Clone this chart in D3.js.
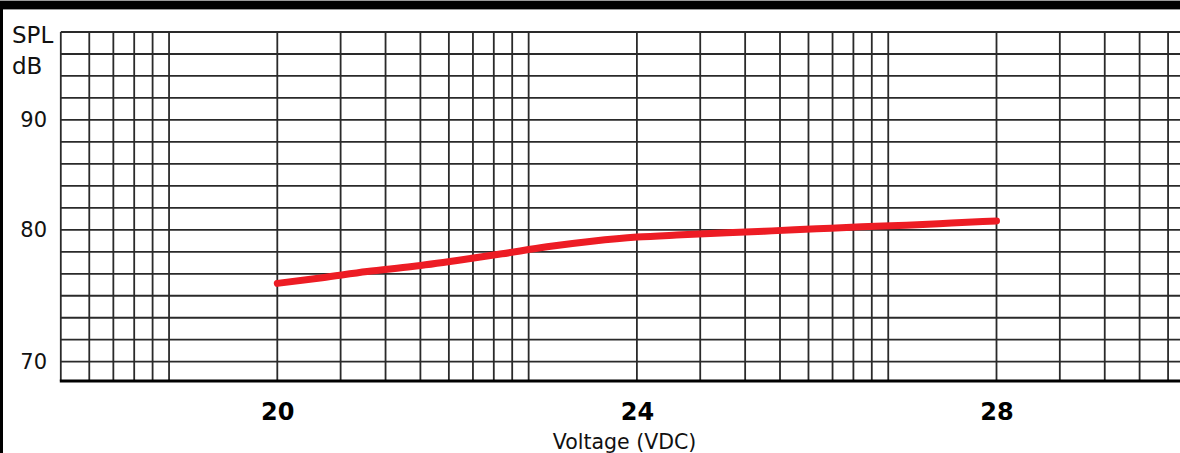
<!DOCTYPE html>
<html>
<head>
<meta charset="utf-8">
<script src="https://cdn.jsdelivr.net/npm/d3@7"></script>
<style>
  html, body { margin: 0; padding: 0; background: #fff; }
  svg { display: block; }
</style>
</head>
<body>
<script>
// data
var voltage = [20, 20.5, 21, 21.5, 22, 22.5, 23, 23.5, 24, 24.5, 25, 25.5, 26, 26.5, 27, 27.5, 28];
var spl = [75.94, 76.37, 76.84, 77.22, 77.68, 78.18, 78.71, 79.13, 79.45, 79.62, 79.77, 79.92, 80.09, 80.27, 80.42, 80.61, 80.81];

var xTicks = [20, 24, 28];
var yTicks = [70, 80, 90];

// graph paper pattern: each labelled step (4 V) is one log decade
var paperDecades = [-1, 0, 1, 2];
var paperSteps = [1, 1.5, 2, 2.5, 3, 3.5, 4, 4.5, 5];
var paperRows = d3.range(0, 16);

var W = 1180, H = 453;

var svg = d3.select("body")
	.append("svg")
	.attr("width", W)
	.attr("height", H);

// scales
var x = d3.scaleLinear().domain([20, 28]).range([277.3, 996.5]);
var rowY = d3.scaleLinear().domain([0, 15]).range([32, 361.7]);
// the printed labels do not sit evenly on the paper, so polylinear
var y = d3.scaleLinear().domain([70, 80, 90]).range([rowY(15), rowY(9), rowY(4)]);

var paperX = function(k, m){
	return x(20 + 4 * (k + Math.log10(m)));
};

var left = paperX(-1, 2.5);
var bottom = 381;

// outer frame (top band and left edge)
svg.append("rect").attr("x", 0).attr("y", 0).attr("width", W).attr("height", 10).attr("fill", "#9a9a9a");
svg.append("rect").attr("x", 0).attr("y", 1).attr("width", W).attr("height", 8).attr("fill", "#000");
svg.append("rect").attr("x", 0).attr("y", 9).attr("width", 3).attr("height", H - 9).attr("fill", "#000");

var grid = svg.append("g").attr("class", "paper");

// horizontal rulings
grid.selectAll("line.row")
	.data(paperRows)
	.enter()
	.append("line")
	.attr("class", "row")
	.attr("x1", left)
	.attr("x2", W)
	.attr("y1", function(d){ return rowY(d); })
	.attr("y2", function(d){ return rowY(d); })
	.attr("stroke", "#2a2a2a")
	.attr("stroke-width", 1.8);

// vertical rulings
var cols = [];
paperDecades.forEach(function(k){
	paperSteps.forEach(function(m){
		var px = paperX(k, m);
		if(px >= left - 0.5 && px <= W) cols.push(px);
	});
});

grid.selectAll("line.col")
	.data(cols)
	.enter()
	.append("line")
	.attr("class", "col")
	.attr("x1", function(d){ return d; })
	.attr("x2", function(d){ return d; })
	.attr("y1", rowY(0))
	.attr("y2", bottom)
	.attr("stroke", "#2a2a2a")
	.attr("stroke-width", 1.8);

// bottom border
grid.append("line")
	.attr("x1", left - 1)
	.attr("x2", W)
	.attr("y1", bottom)
	.attr("y2", bottom)
	.attr("stroke", "#000")
	.attr("stroke-width", 3);

// y axis labels
var yAxis = svg.append("g")
	.attr("transform", "translate(47,0)")
	.call(d3.axisLeft(y).tickValues(yTicks).tickSize(0).tickPadding(0));
yAxis.select(".domain").remove();
yAxis.selectAll("text")
	.attr("font-family", "DejaVu Sans, sans-serif")
	.attr("font-size", 21)
	.attr("fill", "#111");

svg.append("text")
	.attr("x", 12)
	.attr("y", 43)
	.attr("font-family", "DejaVu Sans, sans-serif")
	.attr("font-size", 23)
	.attr("fill", "#111")
	.text("SPL");

svg.append("text")
	.attr("x", 12)
	.attr("y", 74)
	.attr("font-family", "DejaVu Sans, sans-serif")
	.attr("font-size", 23)
	.attr("fill", "#111")
	.text("dB");

// x axis labels
var xAxis = svg.append("g")
	.attr("transform", "translate(0," + bottom + ")")
	.call(d3.axisBottom(x).tickValues(xTicks).tickSize(0).tickPadding(22));
xAxis.select(".domain").remove();
xAxis.selectAll("text")
	.attr("font-family", "DejaVu Sans, sans-serif")
	.attr("font-weight", "bold")
	.attr("font-size", 24)
	.attr("fill", "#000");

svg.append("text")
	.attr("x", 624.5)
	.attr("y", 449)
	.attr("text-anchor", "middle")
	.attr("font-family", "DejaVu Sans, sans-serif")
	.attr("font-size", 20.5)
	.attr("fill", "#111")
	.text("Voltage (VDC)");

// the curve
var line = d3.line()
	.x(function(d, i){ return x(voltage[i]); })
	.y(function(d){ return y(d); })
	.curve(d3.curveMonotoneX);

svg.append("path")
	.datum(spl)
	.attr("d", line)
	.attr("fill", "none")
	.attr("stroke", "#ed1c24")
	.attr("stroke-width", 7)
	.attr("stroke-linecap", "round");
</script>
</body>
</html>
